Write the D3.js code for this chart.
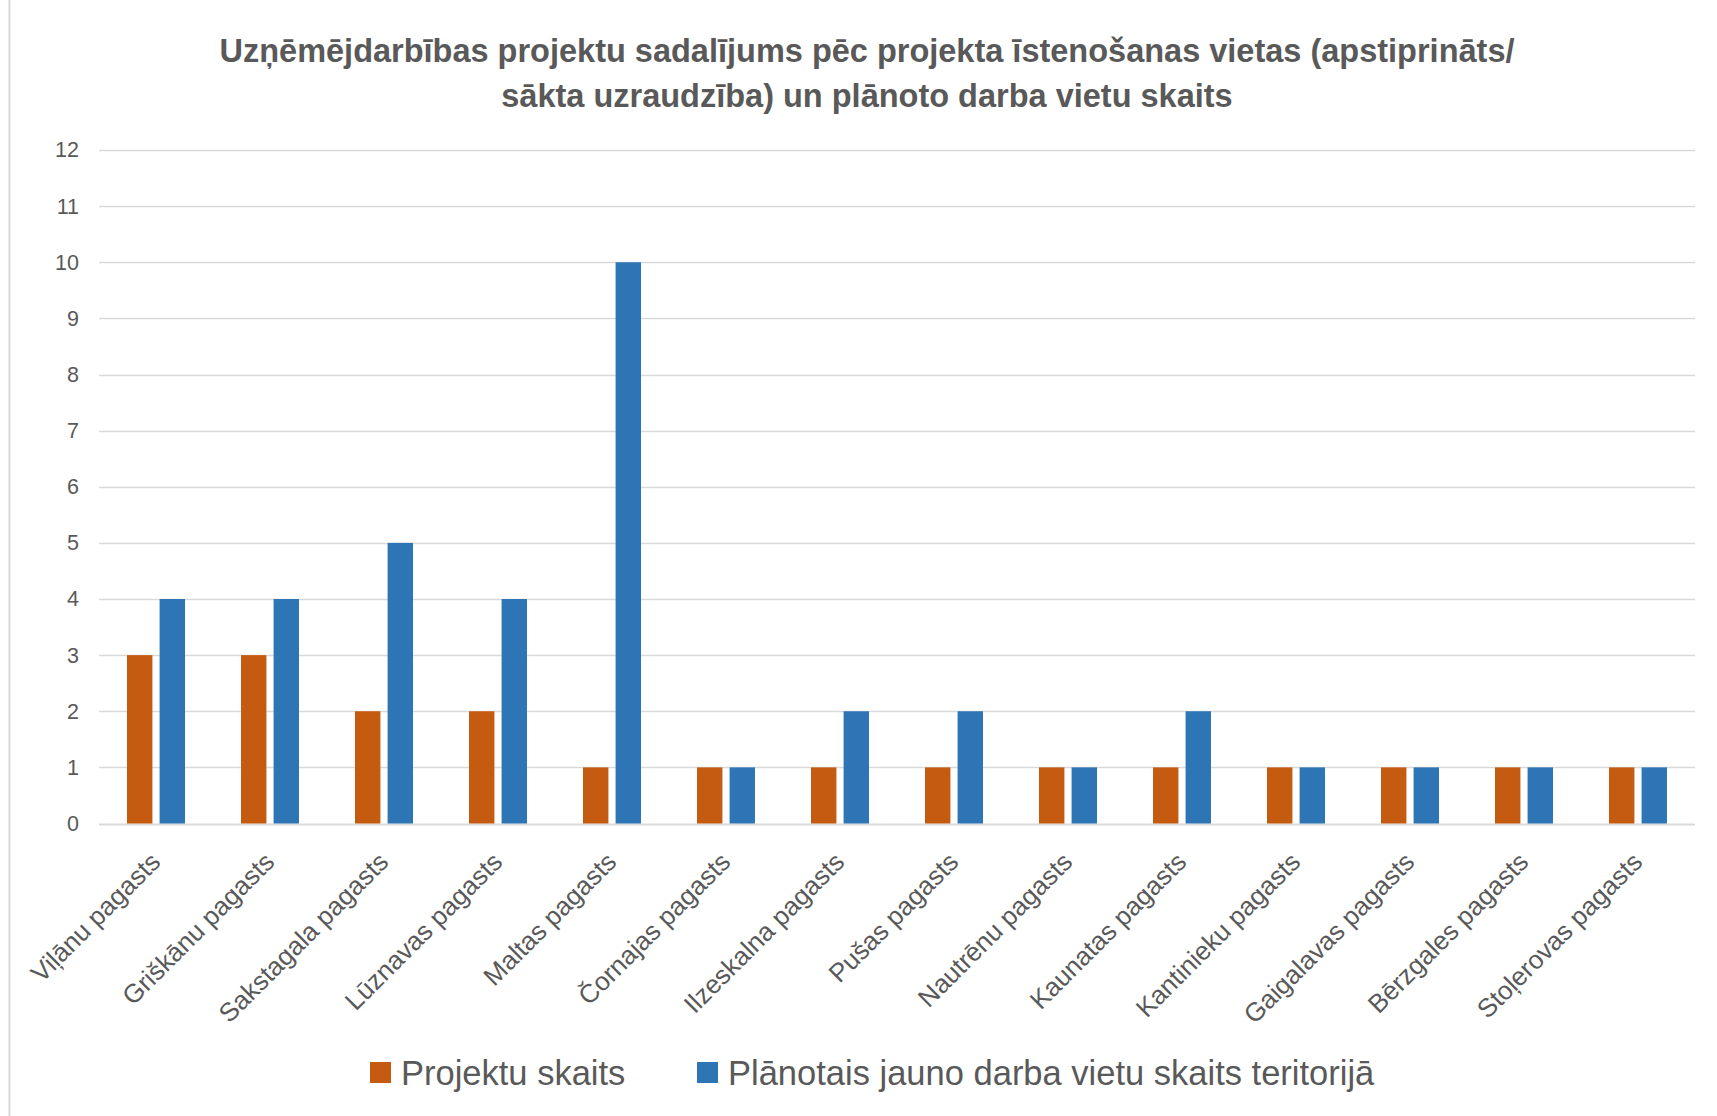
<!DOCTYPE html>
<html>
<head>
<meta charset="utf-8">
<script src="https://cdn.jsdelivr.net/npm/d3@7/dist/d3.min.js"></script>
<style>
  body { margin: 0; background: #fff; }
  text { font-family: "Liberation Sans", Arial, sans-serif; fill: #595959; }
</style>
</head>
<body>
<script>
var categories = ['Viļānu pagasts', 'Griškānu pagasts', 'Sakstagala pagasts', 'Lūznavas pagasts',
    'Maltas pagasts', 'Čornajas pagasts', 'Ilzeskalna pagasts', 'Pušas pagasts', 'Nautrēnu pagasts',
    'Kaunatas pagasts', 'Kantinieku pagasts', 'Gaigalavas pagasts', 'Bērzgales pagasts', 'Stoļerovas pagasts'];
var projektuSkaits = [3, 3, 2, 2, 1, 1, 1, 1, 1, 1, 1, 1, 1, 1];
var darbaVietas = [4, 4, 5, 4, 10, 1, 2, 2, 1, 2, 1, 1, 1, 1];
var seriesNames = ['Projektu skaits', 'Plānotais jauno darba vietu skaits teritorijā'];
var seriesColors = ['#C55A11', '#2E75B6'];
var yTicks = d3.range(0, 13);
var titleLines = ['Uzņēmējdarbības projektu sadalījums pēc projekta īstenošanas vietas (apstiprināts/',
    'sākta uzraudzība) un plānoto darba vietu skaits'];

var W = 1717, H = 1116;
var plot = {left: 99, right: 1695, top: 150, bottom: 823.5};

var svg = d3.select('body').append('svg')
    .attr('width', W)
    .attr('height', H);

// chart border (left side visible only)
svg.append('line')
    .attr('x1', 9.5).attr('x2', 9.5)
    .attr('y1', 0).attr('y2', H)
    .attr('stroke', '#d9d9d9')
    .attr('stroke-width', 2);

// title
svg.append('g').selectAll('text')
    .data(titleLines)
    .enter().append('text')
    .attr('x', 867)
    .attr('y', function (d, i) { return 62 + i * 45; })
    .attr('text-anchor', 'middle')
    .attr('font-weight', 'bold')
    .attr('font-size', 32.5)
    .text(function (d) { return d; });

//scales
var yScale = d3.scaleLinear().domain([0, 12]).range([plot.bottom, plot.top]);
var xScale = d3.scaleBand().domain(categories).range([plot.left, plot.right]).padding(0);
var innerScale = d3.scaleBand().domain([0, 1]).range([-29, 29]).paddingInner(0.22);

// gridlines
svg.append('g').selectAll('line')
    .data(yTicks)
    .enter().append('line')
    .attr('x1', plot.left)
    .attr('x2', plot.right)
    .attr('y1', function (d) { return Math.round(yScale(d)) + 0.5; })
    .attr('y2', function (d) { return Math.round(yScale(d)) + 0.5; })
    .attr('stroke', '#d9d9d9')
    .attr('stroke-width', function (d) { return d === 0 ? 2 : 1.3; });

// y axis labels
var yAxis = d3.axisLeft(yScale).tickValues(yTicks).tickSize(0).tickPadding(0);
var yAxisElem = svg.append('g')
    .attr('transform', 'translate(79,0)')
    .call(yAxis);
yAxisElem.select('.domain').remove();
yAxisElem.selectAll('text')
    .attr('font-size', 21.5)
    .attr('fill', '#595959')
    .attr('font-family', '"Liberation Sans", Arial, sans-serif');

// bars
var data = categories.map(function (c, i) {
    return {key: c, values: [projektuSkaits[i], darbaVietas[i]]};
});

var groups = svg.append('g').selectAll('g')
    .data(data)
    .enter().append('g')
    .attr('transform', function (d) {
        return 'translate(' + (xScale(d.key) + xScale.bandwidth() / 2) + ',0)';
    });

groups.selectAll('rect')
    .data(function (d) { return d.values; })
    .enter().append('rect')
    .attr('x', function (d, i) { return innerScale(i); })
    .attr('y', function (d) { return yScale(d); })
    .attr('width', innerScale.bandwidth())
    .attr('height', function (d) { return yScale(0) - yScale(d); })
    .attr('fill', function (d, i) { return seriesColors[i]; });

// x labels
svg.append('g').selectAll('text')
    .data(categories)
    .enter().append('text')
    .attr('transform', function (d) {
        var x = xScale(d) + xScale.bandwidth() / 2 + 6;
        return 'translate(' + x + ',' + (plot.bottom + 40) + ') rotate(-45)';
    })
    .attr('text-anchor', 'end')
    .attr('font-size', 26)
    .text(function (d) { return d; });

// legend
var legendX = [370, 697];
var legend = svg.append('g').selectAll('g')
    .data(seriesNames)
    .enter().append('g')
    .attr('transform', function (d, i) { return 'translate(' + legendX[i] + ',1073)'; });

legend.append('rect')
    .attr('x', 0)
    .attr('y', -11)
    .attr('width', 21)
    .attr('height', 21)
    .attr('fill', function (d, i) { return seriesColors[i]; });

legend.append('text')
    .attr('x', 31)
    .attr('y', 12)
    .attr('font-size', 34.5)
    .text(function (d) { return d; });
</script>
</body>
</html>
